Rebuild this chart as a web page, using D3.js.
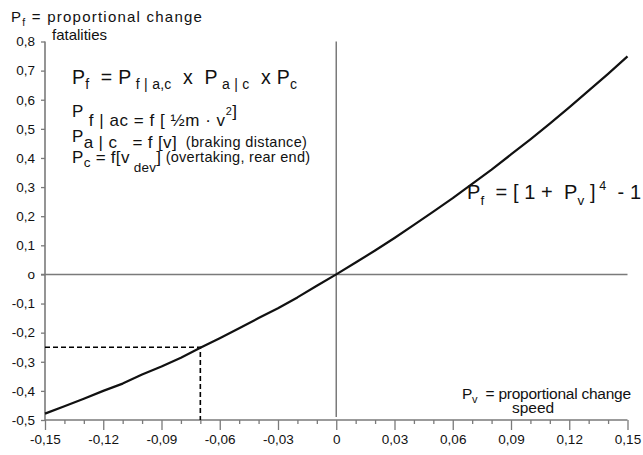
<!DOCTYPE html>
<html><head><meta charset="utf-8">
<script src="https://cdn.jsdelivr.net/npm/d3@7"></script>
<style>
body{margin:0;background:#fff;}
text{font-family:"Liberation Sans",Arial,Helvetica,sans-serif;fill:#111;white-space:pre;}
</style></head>
<body>
<svg id="chart" width="643" height="455"></svg>
<script>
// Data
const speedChange = [-0.15,-0.14,-0.13,-0.12,-0.11,-0.10,-0.09,-0.08,-0.07,-0.06,-0.05,-0.04,-0.03,-0.02,-0.01,0,0.01,0.02,0.03,0.04,0.05,0.06,0.07,0.08,0.09,0.10,0.11,0.12,0.13,0.14,0.15];
const fatalChange = [-0.478,-0.453,-0.427,-0.400,-0.375,-0.344,-0.316,-0.286,-0.252,-0.219,-0.185,-0.150,-0.116,-0.079,-0.039,0,0.041,0.082,0.125,0.170,0.216,0.262,0.311,0.360,0.412,0.464,0.518,0.574,0.631,0.689,0.749];
const xTicks = [-0.15,-0.12,-0.09,-0.06,-0.03,0,0.03,0.06,0.09,0.12,0.15];
const xTickLabels = ["-0,15","-0,12","-0,09","-0,06","-0,03","0","0,03","0,06","0,09","0,12","0,15"];
const xMinorTicks = [-0.14,-0.13,-0.11,-0.10,-0.08,-0.07,-0.05,-0.04,-0.02,-0.01,0.01,0.02,0.04,0.05,0.07,0.08,0.10,0.11,0.13,0.14];
const yTicks = [0.8,0.7,0.6,0.5,0.4,0.3,0.2,0.1,0,-0.1,-0.2,-0.3,-0.4,-0.5];
const yTickLabels = ["0,8","0,7","0,6","0,5","0,4","0,3","0,2","0,1","o","-0,1","-0,2","-0,3","-0,4","-0,5"];
const example = {pv: -0.07, pf: -0.25};

const svg = d3.select("#chart");
const x = d3.scaleLinear().domain([-0.15, 0.15]).range([45, 627.5]);
const y = d3.scaleLinear().domain([-0.5, 0.8]).range([420, 41.5]);
const axisColor = "#7a7a7a";

// Y axis
const yAxis = d3.axisLeft(y).tickValues(yTicks).tickSize(4).tickFormat((d,i)=>yTickLabels[i]);
const gy = svg.append("g").attr("transform", `translate(${x(-0.15)},0)`).call(yAxis);
gy.select(".domain").attr("stroke", axisColor).attr("stroke-width", 1.6).attr("d", `M0,${y(0.8)}V${y(-0.5)+1}`);
gy.selectAll(".tick line").attr("stroke", axisColor).attr("stroke-width", 1.3);
gy.selectAll(".tick text").attr("x", -10).attr("font-size", 13.5).style("font-family", '"Liberation Sans",Arial,sans-serif').attr("fill", "#111");

// X axis
const xAxis = d3.axisBottom(x).tickValues(xTicks).tickSize(10).tickFormat((d,i)=>xTickLabels[i]);
const gx = svg.append("g").attr("transform", `translate(0,${y(-0.5)})`).call(xAxis);
gx.select(".domain").attr("stroke", axisColor).attr("stroke-width", 1.6).attr("d", `M${x(-0.15)},0H${x(0.15)}`);
gx.selectAll(".tick line").attr("stroke", axisColor).attr("stroke-width", 1.3);
gx.selectAll(".tick text").attr("y", 14).attr("font-size", 13.5).style("font-family", '"Liberation Sans",Arial,sans-serif').attr("fill", "#111");
const xAxisMinor = d3.axisBottom(x).tickValues(xMinorTicks).tickSize(4).tickFormat("");
const gxm = svg.append("g").attr("transform", `translate(0,${y(-0.5)})`).call(xAxisMinor);
gxm.select(".domain").remove();
gxm.selectAll(".tick line").attr("stroke", axisColor).attr("stroke-width", 1.3);

// Zero reference lines
svg.append("line").attr("x1", x(-0.15)-4).attr("x2", x(0.15)).attr("y1", y(0)).attr("y2", y(0))
  .attr("stroke", axisColor).attr("stroke-width", 1.5);
svg.append("line").attr("x1", x(0)).attr("x2", x(0)).attr("y1", y(0.8)).attr("y2", y(-0.5)-3)
  .attr("stroke", axisColor).attr("stroke-width", 1.5);

// Dashed example lines
svg.append("path")
  .attr("d", `M${x(-0.15)},${y(example.pf)}H${x(example.pv)}V${y(-0.5)}`)
  .attr("fill", "none").attr("stroke", "#000").attr("stroke-width", 1.6).attr("stroke-dasharray", "5,3");

// Curve
const pts = speedChange.map((v,i)=>[v, fatalChange[i]]);
svg.append("path").datum(pts)
  .attr("d", d3.line().x(d=>x(d[0])).y(d=>y(d[1])))
  .attr("fill", "none").attr("stroke", "#111").attr("stroke-width", 2.2).attr("stroke-linejoin","round");

// Helper for text with sub/superscripts, gently stretched to a target width
function rich(px, py, size, parts, xEnd){
  const t = svg.append("text").attr("x", px).attr("y", py).attr("font-size", size);
  parts.forEach(p=>{
    const s = t.append("tspan").text(p.t);
    if (p.dy) s.attr("dy", p.dy);
    if (p.size) s.attr("font-size", p.size);
  });
  if (xEnd){
    const w = t.node().getBBox().width;
    const n = t.text().length;
    t.attr("letter-spacing", ((xEnd - px - w) / (n - 1)).toFixed(2));
  }
  return t;
}

// Top-left axis title
rich(11, 22, 15, [{t:"P"},{t:"f",size:10.5,dy:4},{t:" = proportional change",dy:-4}], 202);
svg.append("text").attr("x", 52).attr("y", 40).attr("font-size", 15).text("fatalities");

// Formula block
rich(72, 84, 19.5, [{t:"P"},{t:"f",size:14,dy:5},{t:"  = P",dy:-5},{t:" f | a,c",size:14,dy:5},{t:"  x  P",dy:-5},{t:" a | c",size:14,dy:5},{t:"  x P",dy:-5},{t:"c",size:14,dy:5}], 297);
rich(72, 117, 17, [{t:"P"},{t:" f | ac = f [ ½m · v",dy:9},{t:"2",size:11,dy:-11},{t:"]",dy:2}], 237);
rich(72, 142, 17, [{t:"P"},{t:"a | c   = f [v]",dy:6},{t:"  (braking distance)",size:14.5,dy:-1}], 307);
rich(72, 163, 17, [{t:"P"},{t:"c",size:13.5,dy:4},{t:" = f[v",dy:-4},{t:" dev",size:13.5,dy:9},{t:"]",dy:-9},{t:" (overtaking, rear end)",size:14.5,dy:-1}], 310);

// Right formula
rich(467, 199, 20, [{t:"P"},{t:"f",size:13.5,dy:6},{t:"  = [ 1 +  P",dy:-6},{t:"v",size:13.5,dy:6},{t:" ]",dy:-6},{t:" 4",size:12.5,dy:-9},{t:"  - 1",dy:9}], 641);

// Bottom-right axis title
rich(462, 399, 15.5, [{t:"P"},{t:"v",size:11,dy:4},{t:"  = proportional change",dy:-4}], 631);
svg.append("text").attr("x", 512).attr("y", 413).attr("font-size", 15.5).text("speed");
</script>
</body></html>
